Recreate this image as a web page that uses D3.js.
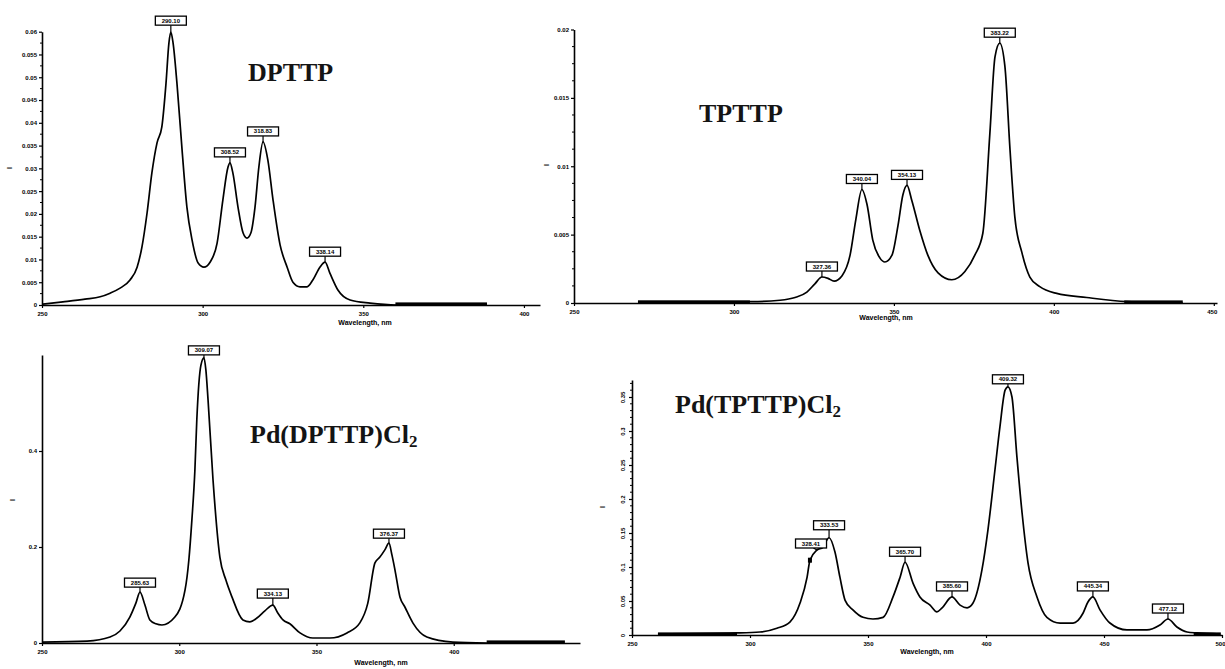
<!DOCTYPE html>
<html><head><meta charset="utf-8">
<script src="https://cdn.jsdelivr.net/npm/d3@7"></script>
<style>
html,body{margin:0;padding:0;background:#fff;}
svg{display:block;}
</style></head>
<body>
<svg id="c" width="1225" height="669"></svg>
<script>
// ---------- DATA ----------
// Panel A: DPTTP
const dptWave = [250.3,256.5,263.4,268.1,271.2,274.3,277.4,279.6,281.1,282.7,284.2,285.8,287.3,288.6,289.5,290.1,290.8,292.0,293.6,295.1,296.7,298.6,300.4,302.3,304.5,306.3,307.9,308.5,309.4,311.0,312.6,313.8,315.0,316.3,317.5,318.8,320.3,321.9,324.1,326.3,328.1,330.3,332.5,334.3,336.5,338.1,339.6,342.1,345.9,352.1,360.5,388.5];
const dptInt  = [0.0002,0.0007,0.0013,0.0018,0.0026,0.0037,0.0055,0.0083,0.0127,0.0202,0.0290,0.0356,0.0391,0.0487,0.0575,0.0599,0.0575,0.0487,0.0340,0.0215,0.0143,0.0092,0.0083,0.0094,0.0136,0.0231,0.0303,0.0312,0.0290,0.0215,0.0158,0.0147,0.0158,0.0215,0.0303,0.0358,0.0318,0.0231,0.0132,0.0083,0.0050,0.0040,0.0040,0.0055,0.0083,0.0094,0.0070,0.0033,0.0011,0.0004,0.0000,0.0000];
const dptPeakWave = [290.1,308.5,318.8,338.1];
const dptPeakInt  = [0.0599,0.0312,0.0358,0.0094];
const dptPeakText = ["290.10","308.52","318.83","338.14"];
const dptNoise = [360,388.5];
const dptXTicks = [250,300,350,400];
const dptXTickText = ["250","300","350","400"];
const dptYTicks = [0,0.005,0.01,0.015,0.02,0.025,0.03,0.035,0.04,0.045,0.05,0.055,0.06];
const dptYTickText = ["0","0.005","0.01","0.015","0.02","0.025","0.03","0.035","0.04","0.045","0.05","0.055","0.06"];
const dptYMinor = [0.0025,0.0075,0.0125,0.0175,0.0225,0.0275,0.0325,0.0375,0.0425,0.0475,0.0525,0.0575];

// Panel B: TPTTP
const tptWave = [270,305.6,314.4,319.1,322.8,325.3,327.5,329.4,331.3,333.8,336.3,338.1,340.0,341.6,343.4,345.6,347.2,349.4,351.3,352.8,354.1,355.6,358.1,360.6,363.8,368.1,372.2,375.3,377.8,380.0,381.6,383.1,384.7,386.3,387.8,390.0,392.5,395.6,400.9,410.3,422.8,440.3];
const tptInt  = [0.0001,0.0001,0.0002,0.0004,0.0008,0.0014,0.0019,0.0018,0.0016,0.0020,0.0035,0.0061,0.0083,0.0072,0.0046,0.0033,0.0030,0.0035,0.0057,0.0079,0.0086,0.0075,0.0053,0.0035,0.0022,0.0017,0.0023,0.0035,0.0051,0.0124,0.0180,0.0190,0.0173,0.0112,0.0063,0.0037,0.0019,0.0012,0.0007,0.0004,0.0001,0.0000];
const tptPeakWave = [327.5,340.0,354.1,383.1];
const tptPeakInt  = [0.0019,0.0083,0.0086,0.0190];
const tptPeakText = ["327.36","340.04","354.13","383.22"];
const tptNoise1 = [270,305];
const tptNoise2 = [422,440.3];
const tptXTicks = [250,300,350,400,450];
const tptXTickText = ["250","300","350","400","450"];
const tptYTicks = [0,0.005,0.01,0.015,0.02];
const tptYTickText = ["0","0.005","0.01","0.015","0.02"];
const tptYMinor = [0.00125,0.0025,0.00375,0.00625,0.0075,0.00875,0.01125,0.0125,0.01375,0.01625,0.0175,0.01875];

// Panel C: Pd(DPTTP)Cl2
const pddWave = [250.0,266.4,274.8,278.4,282.0,284.2,285.7,287.5,289.3,291.5,293.7,298.4,302.1,303.5,304.6,305.7,306.4,307.9,309.0,309.7,310.5,312.3,314.8,317.0,319.2,323.2,325.7,328.3,331.2,334.1,335.9,337.8,340.3,344.0,348.7,354.9,361.1,365.8,368.7,371.3,373.1,374.9,376.4,377.5,378.6,380.4,382.2,385.1,390.2,399.7,412.1];
const pddInt  = [0.002,0.004,0.0125,0.025,0.054,0.083,0.106,0.079,0.048,0.040,0.0375,0.054,0.110,0.173,0.256,0.360,0.465,0.579,0.594,0.569,0.506,0.340,0.179,0.131,0.096,0.048,0.044,0.052,0.067,0.079,0.0625,0.048,0.040,0.021,0.0104,0.0104,0.021,0.042,0.083,0.167,0.179,0.194,0.208,0.183,0.152,0.096,0.075,0.042,0.0125,0.002,0.000];
const pddPeakWave = [285.7,309.0,334.1,376.4];
const pddPeakInt  = [0.106,0.594,0.079,0.208];
const pddPeakText = ["285.63","309.07","334.13","376.37"];
const pddNoise = [412,440.5];
const pddXTicks = [250,300,350,400];
const pddXTickText = ["250","300","350","400"];
const pddYTicks = [0,0.2,0.4];
const pddYTickText = ["0","0.2","0.4"];

// Panel D: Pd(TPTTP)Cl2
const pdtWave = [261.0,294.5,304.2,311.4,316.9,321.2,324.2,325.4,328.4,330.9,333.5,336.0,338.1,340.3,343.6,347.9,352.1,356.4,360.6,363.6,365.7,369.1,372.0,376.3,379.2,381.4,385.6,389.0,392.0,394.5,398.3,400.8,403.8,405.9,408.1,409.3,411.0,413.1,415.3,417.8,421.6,425.8,431.4,436.9,441.1,443.2,445.3,448.3,452.5,459.7,468.2,473.7,477.1,480.9,485.2,489.4,499.2];
const pdtInt  = [0.0015,0.003,0.0044,0.010,0.019,0.047,0.085,0.110,0.125,0.129,0.143,0.122,0.085,0.051,0.037,0.026,0.0235,0.026,0.056,0.085,0.107,0.076,0.056,0.044,0.034,0.040,0.056,0.044,0.040,0.047,0.096,0.154,0.243,0.306,0.360,0.365,0.350,0.262,0.179,0.106,0.056,0.026,0.0176,0.0176,0.032,0.0485,0.056,0.037,0.0176,0.0074,0.0074,0.0147,0.0235,0.0118,0.0044,0.003,0.0015];
const pdtPeakWave = [328.4,333.5,365.7,385.6,409.3,445.3,477.1];
const pdtPeakInt  = [0.125,0.143,0.107,0.056,0.365,0.056,0.0235];
const pdtPeakText = ["328.41","333.53","365.70","385.60","409.32","445.34","477.12"];
const pdtMarkWave = [325.4];
const pdtMarkInt  = [0.110];
const pdtNoise1 = [261,294.5];
const pdtNoise2 = [488,499.5];
const pdtXTicks = [250,300,350,400,450,500];
const pdtXTickText = ["250","300","350","400","450","500"];
const pdtYTicks = [0,0.05,0.1,0.15,0.2,0.25,0.3,0.35];
const pdtYTickText = ["0","0.05","0.1","0.15","0.2","0.25","0.3","0.35"];
const pdtYMinor = [0.01,0.02,0.03,0.04,0.06,0.07,0.08,0.09,0.11,0.12,0.13,0.14,0.16,0.17,0.18,0.19,0.21,0.22,0.23,0.24,0.26,0.27,0.28,0.29,0.31,0.32,0.33,0.34,0.36,0.37];

// ---------- DRAW ----------
const svg = d3.select("#c");
const tickFont = "Liberation Sans, Arial, sans-serif";
const titleFont = "Liberation Serif, 'Times New Roman', serif";

function panel(o){
  const g = svg.append("g");
  const x = d3.scaleLinear().domain(o.xDomain).range(o.xRange);
  const y = d3.scaleLinear().domain(o.yDomain).range(o.yRange);

  const xa = g.append("g").attr("transform",`translate(0,${o.yRange[0]})`)
    .call(d3.axisBottom(x).tickValues(o.xTicks).tickFormat((d,i)=>o.xTickText[i]).tickSize(3).tickSizeOuter(0));
  const ya = g.append("g").attr("transform",`translate(${o.xRange[0]},0)`)
    .call(d3.axisLeft(y).tickValues(o.yTicks).tickFormat((d,i)=>o.yTickText[i]).tickSize(3).tickSizeOuter(0).tickPadding(2));
  [xa,ya].forEach(a=>{
    a.select(".domain").attr("stroke","#000").attr("stroke-width",1.6);
    a.selectAll(".tick line").attr("stroke","#000").attr("stroke-width",1.2);
    a.selectAll(".tick text").attr("font-family",tickFont).attr("font-weight","bold").attr("font-size",6).attr("fill","#000");
  });
  xa.selectAll(".tick text").attr("dy","0.9em");
  // keep the last x label inside the page
  xa.selectAll(".tick text").filter((d)=> x(d) > 1210).attr("text-anchor","end").attr("dx",3);
  if(o.rotateY){
    ya.selectAll(".tick text")
      .attr("text-anchor","middle").attr("x",0).attr("dy","0.35em").attr("y",0)
      .attr("transform","translate(-9,0) rotate(-90)");
  }
  if(o.yMinor){
    ya.selectAll(".minor").data(o.yMinor).enter().append("line")
      .attr("x1",-2).attr("x2",0).attr("y1",d=>y(d)).attr("y2",d=>y(d))
      .attr("stroke","#000").attr("stroke-width",1);
  }

  (o.noise||[]).forEach(n=>{
    g.append("rect").attr("x",x(n[0])).attr("width",x(n[1])-x(n[0]))
      .attr("y",y(0)-2.6).attr("height",2.6).attr("fill","#000");
  });

  const pts = o.wave.map((w,i)=>[w,o.int[i]]);
  g.append("path").datum(pts)
    .attr("d",d3.line().x(d=>x(d[0])).y(d=>y(d[1])).curve(d3.curveMonotoneX))
    .attr("fill","none").attr("stroke","#000").attr("stroke-width",1.7).attr("stroke-linejoin","round");

  (o.markWave||[]).forEach((w,i)=>{
    g.append("rect").attr("x",x(w)-2).attr("y",y(o.markInt[i])-2.5).attr("width",4).attr("height",5).attr("fill","#000");
  });

  o.peakWave.forEach((w,i)=>{
    const px = x(w), py = y(o.peakInt[i]);
    const dx = (o.peakDx||[])[i]||0, dy=(o.peakDy||[])[i]||0;
    const bw = 31, bh = 9, gap = 6 + dy;
    const bx = px + dx - bw/2, by = py - gap - bh;
    g.append("line").attr("x1",px).attr("x2",px+dx*0.6).attr("y1",py).attr("y2",by+bh)
      .attr("stroke","#000").attr("stroke-width",1.2);
    g.append("rect").attr("x",bx).attr("y",by).attr("width",bw).attr("height",bh)
      .attr("fill","#fff").attr("stroke","#000").attr("stroke-width",1.3);
    g.append("text").attr("x",bx+bw/2).attr("y",by+bh/2+2)
      .attr("text-anchor","middle").attr("font-family",tickFont).attr("font-weight","bold")
      .attr("font-size",6).text(o.peakText[i]);
  });

  g.append("text").attr("x",o.xLabel[0]).attr("y",o.xLabel[1]).attr("text-anchor","middle")
    .attr("font-family",tickFont).attr("font-weight","bold").attr("font-size",7).text("Wavelength, nm");
  g.append("text").attr("transform",`translate(${o.yLabel[0]},${o.yLabel[1]}) rotate(-90)`)
    .attr("text-anchor","middle").attr("font-family",tickFont).attr("font-weight","bold").attr("font-size",7).text("I");

  const t = g.append("text").attr("x",o.title[0]).attr("y",o.title[1])
    .attr("font-family",titleFont).attr("font-weight","bold").attr("font-size",26).attr("fill","#141414");
  t.append("tspan").text(o.titleText);
  if(o.titleSub){ t.append("tspan").attr("font-size",17).attr("dy",4).text(o.titleSub); }
}

panel({wave:dptWave,int:dptInt,xDomain:[250,405],xRange:[42,540],yDomain:[0,0.06],yRange:[305,31.7],
  xTicks:dptXTicks,xTickText:dptXTickText,yTicks:dptYTicks,yTickText:dptYTickText,yMinor:dptYMinor,
  noise:[dptNoise],peakWave:dptPeakWave,peakInt:dptPeakInt,peakText:dptPeakText,peakDy:[1,0,0,0],
  xLabel:[365,325],yLabel:[12,168],title:[248,81],titleText:"DPTTP"});

panel({wave:tptWave,int:tptInt,xDomain:[250,451],xRange:[574,1217],yDomain:[0,0.02],yRange:[303,29.5],
  xTicks:tptXTicks,xTickText:tptXTickText,yTicks:tptYTicks,yTickText:tptYTickText,yMinor:tptYMinor,
  noise:[tptNoise1,tptNoise2],peakWave:tptPeakWave,peakInt:tptPeakInt,peakText:tptPeakText,
  xLabel:[886,320],yLabel:[549,165],title:[699,122],titleText:"TPTTP"});

panel({wave:pddWave,int:pddInt,xDomain:[250,446],xRange:[42,580],yDomain:[0,0.6],yRange:[643,355],
  xTicks:pddXTicks,xTickText:pddXTickText,yTicks:pddYTicks,yTickText:pddYTickText,
  noise:[pddNoise],peakWave:pddPeakWave,peakInt:pddPeakInt,peakText:pddPeakText,peakDy:[-1,-3,1,-1],
  xLabel:[381,665],yLabel:[15,500],title:[250,443],titleText:"Pd(DPTTP)Cl",titleSub:"2"});

panel({wave:pdtWave,int:pdtInt,xDomain:[250,500],xRange:[632,1222],yDomain:[0,0.375],yRange:[635,380],
  xTicks:pdtXTicks,xTickText:pdtXTickText,yTicks:pdtYTicks,yTickText:pdtYTickText,yMinor:pdtYMinor,rotateY:true,
  noise:[pdtNoise1,pdtNoise2],peakWave:pdtPeakWave,peakInt:pdtPeakInt,peakText:pdtPeakText,
  markWave:pdtMarkWave,markInt:pdtMarkInt,
  peakDx:[-6,0,0,0,0,0,0],peakDy:[-4,2,0,0,-3,0,0],
  xLabel:[927,654],yLabel:[605,507],title:[675,413],titleText:"Pd(TPTTP)Cl",titleSub:"2"});
</script>
</body></html>
